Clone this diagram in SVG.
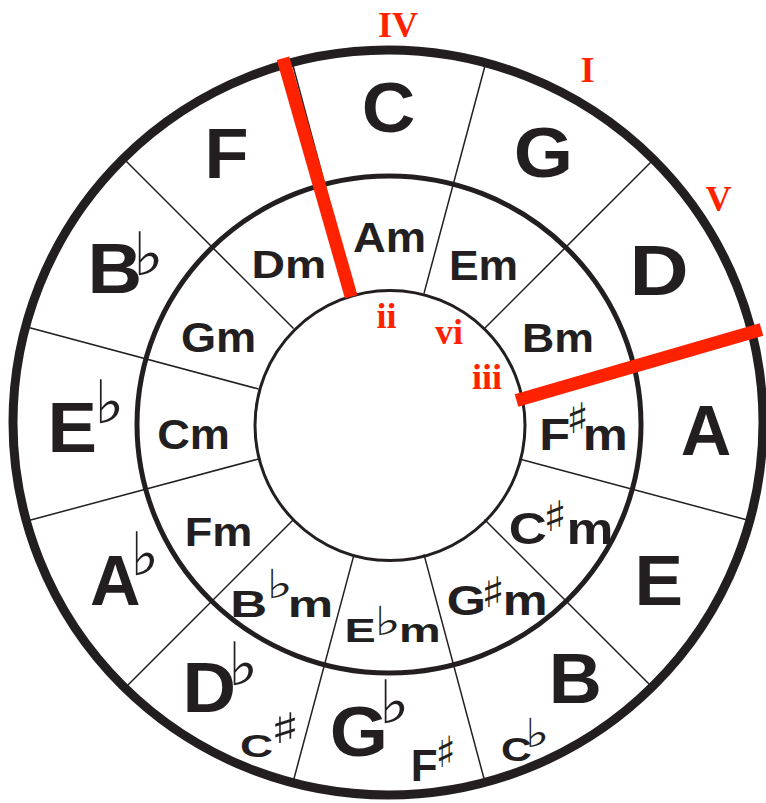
<svg xmlns="http://www.w3.org/2000/svg" width="766" height="803" viewBox="0 0 766 803">
<style>
.maj{font-family:"Liberation Sans",Arial,sans-serif;font-weight:bold;font-size:70px;fill:#231f20}
.min{font-family:"Liberation Sans",Arial,sans-serif;font-weight:bold;fill:#231f20}
.acc{font-family:"DejaVu Sans",sans-serif;font-weight:normal}
.num{font-family:"Liberation Serif","Times New Roman",serif;font-weight:bold;font-size:36px;fill:#ff2200;text-anchor:middle}
.ring{fill:none;stroke:#231f20}
.spoke{stroke:#231f20;stroke-width:1.5}
.red{stroke:#ff2200;stroke-width:13;stroke-linecap:butt}
</style>
<rect width="766" height="803" fill="#fff"/>
<g id="spokes">
<line class="spoke" x1="423.94" y1="293.60" x2="485.27" y2="64.69"/>
<line class="spoke" x1="484.46" y1="328.54" x2="652.04" y2="160.96"/>
<line class="spoke" x1="519.40" y1="458.94" x2="748.31" y2="520.27"/>
<line class="spoke" x1="484.46" y1="519.46" x2="652.04" y2="687.04"/>
<line class="spoke" x1="423.94" y1="554.40" x2="485.27" y2="783.31"/>
<line class="spoke" x1="354.06" y1="554.40" x2="292.73" y2="783.31"/>
<line class="spoke" x1="293.54" y1="519.46" x2="125.96" y2="687.04"/>
<line class="spoke" x1="258.60" y1="458.94" x2="29.69" y2="520.27"/>
<line class="spoke" x1="258.60" y1="389.06" x2="29.69" y2="327.73"/>
<line class="spoke" x1="293.54" y1="328.54" x2="125.96" y2="160.96"/>
<line class="spoke" x1="354.06" y1="293.60" x2="292.73" y2="64.69"/>
</g>
<g id="rings">
<ellipse class="ring" cx="388" cy="422.5" rx="375" ry="372.5" stroke-width="9"/>
<ellipse class="ring" cx="389" cy="424.5" rx="252" ry="248.5" stroke-width="5"/>
<circle class="ring" cx="390" cy="425.5" r="135" stroke-width="3"/>
</g>
<g id="sector-C">
<text class="maj" text-anchor="middle" transform="translate(388.5,132) scale(1.06,1)">C</text>
<text class="min" font-size="42" text-anchor="middle" transform="translate(389.5,252) scale(1.08,1)">Am</text>
</g>
<g id="sector-G">
<text class="maj" text-anchor="middle" transform="translate(543.3,177) scale(1.09,1)">G</text>
<text class="min" font-size="42" text-anchor="middle" transform="translate(483.5,280) scale(1.06,1)">Em</text>
</g>
<g id="sector-D">
<text class="maj" text-anchor="middle" transform="translate(659,295) scale(1.17,1)">D</text>
<text class="min" font-size="41" text-anchor="middle" transform="translate(558,352) scale(1.09,1)">Bm</text>
</g>
<g id="sector-A">
<text class="maj" text-anchor="middle" transform="translate(706,455)">A</text>
<text class="min" font-size="44" transform="translate(539.2,450) scale(1.15,1)">F<tspan class="acc" font-size="42" x="23.4" y="-17">♯</tspan><tspan x="37.8" y="0">m</tspan></text>
</g>
<g id="sector-E">
<text class="maj" text-anchor="middle" transform="translate(658.7,605) scale(1.04,1)">E</text>
<text class="min" font-size="44" transform="translate(508.7,544) scale(1.2,1)">C<tspan class="acc" font-size="42" x="28.6" y="-13">♯</tspan><tspan x="48.2" y="0">m</tspan></text>
</g>
<g id="sector-B">
<text class="maj" text-anchor="middle" transform="translate(575.3,703) scale(1.05,1)">B</text>
<text class="min" font-size="33" transform="translate(501.1,761) scale(1.29,1)">C<tspan class="acc" font-size="40" x="18.4" y="-14">♭</tspan></text>
<text class="min" font-size="42" transform="translate(446.8,615) scale(1.2,1)">G<tspan class="acc" font-size="42" x="28.5" y="-8">♯</tspan><tspan x="46.6" y="0">m</tspan></text>
</g>
<g id="sector-Gb">
<text class="maj" transform="translate(329.7,756) scale(1.07,1)">G<tspan class="acc" font-size="60" x="46.1" y="-33">♭</tspan></text>
<text class="min" font-size="44" transform="translate(410.7,781)">F<tspan class="acc" font-size="43" x="24.8" y="-14">♯</tspan></text>
<text class="min" font-size="33" transform="translate(344.4,642) scale(1.42,1)">E<tspan class="acc" font-size="40" x="20.9" y="-7">♭</tspan><tspan x="38.5" y="0">m</tspan></text>
</g>
<g id="sector-Db">
<text class="maj" transform="translate(182.4,712) scale(1.06,1)">D<tspan class="acc" font-size="60" x="43.1" y="-27">♭</tspan></text>
<text class="min" font-size="31" transform="translate(240,757) scale(1.48,1)">C<tspan class="acc" font-size="42" x="20.5" y="-14">♯</tspan></text>
<text class="min" font-size="36" transform="translate(230.3,617) scale(1.42,1)">B<tspan class="acc" font-size="40" x="25.2" y="-19">♭</tspan><tspan x="40.4" y="0">m</tspan></text>
</g>
<g id="sector-Ab">
<text class="maj" transform="translate(90,605)">A<tspan class="acc" font-size="60" x="40.6" y="-30">♭</tspan></text>
<text class="min" font-size="41" text-anchor="middle" transform="translate(218.5,546) scale(1.1,1)">Fm</text>
</g>
<g id="sector-Eb">
<text class="maj" transform="translate(47.4,452) scale(1.06,1)">E<tspan class="acc" font-size="60" x="44.1" y="-29">♭</tspan></text>
<text class="min" font-size="43" text-anchor="middle" transform="translate(193.5,449) scale(1.05,1)">Cm</text>
</g>
<g id="sector-Bb">
<text class="maj" transform="translate(87.5,293) scale(1.08,1)">B<tspan class="acc" font-size="60" x="42.1" y="-18">♭</tspan></text>
<text class="min" font-size="43" text-anchor="middle" transform="translate(218.5,352) scale(1.05,1)">Gm</text>
</g>
<g id="sector-F">
<text class="maj" text-anchor="middle" transform="translate(226.5,178) scale(1.03,1)">F</text>
<text class="min" font-size="39" text-anchor="middle" transform="translate(288.8,278) scale(1.19,1)">Dm</text>
</g>
<g id="degrees">
<line class="red" x1="283" y1="58.3" x2="351.2" y2="296.7"/>
<line class="red" x1="516.5" y1="400.4" x2="761.5" y2="329.5"/>
<text class="num" x="398" y="37">IV</text>
<text class="num" x="587.5" y="82">I</text>
<text class="num" x="718.5" y="211">V</text>
<text class="num" x="386.5" y="328">ii</text>
<text class="num" x="449" y="344">vi</text>
<text class="num" x="487" y="389">iii</text>
</g>
</svg>
